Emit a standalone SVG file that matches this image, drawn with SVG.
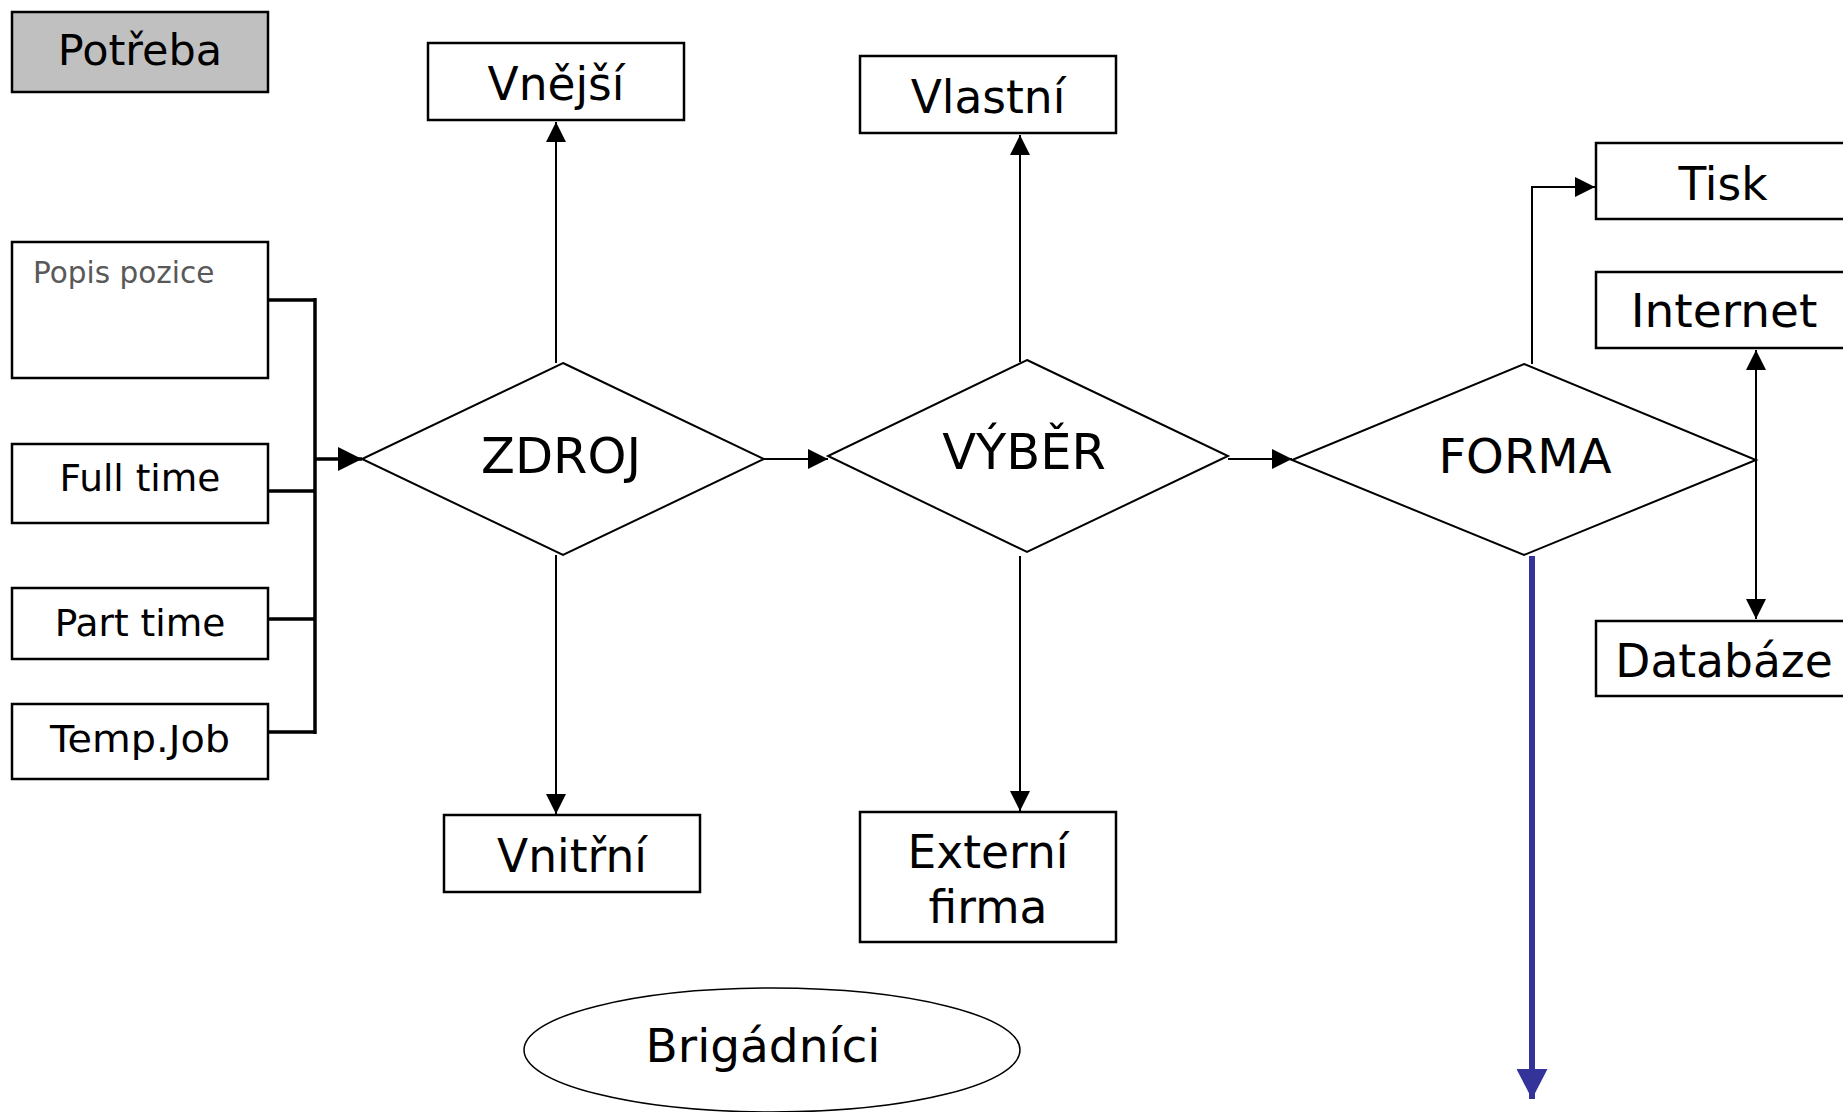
<svg xmlns="http://www.w3.org/2000/svg" width="1843" height="1112" viewBox="0 0 1843 1112">
  <style>
    .box { fill: #ffffff; stroke: #000000; stroke-width: 2.5; }
    .shade { fill: #c0c0c0; }
    .dia { fill: #ffffff; stroke: #000000; stroke-width: 2; }
    .lbl { font-family: "DejaVu Sans", Verdana, sans-serif; fill: #000000; text-anchor: middle; }
    .s44 { font-size: 45.5px; }
    .s36 { font-size: 37.5px; }
    .s48 { font-size: 49.5px; }
    .thin { fill: none; stroke: #000000; stroke-width: 2; }
    .bus { fill: none; stroke: #000000; stroke-width: 3.5; }
    .blue { fill: none; stroke: #333399; stroke-width: 6; }
  </style>
  <defs>
    <marker id="arr" markerUnits="userSpaceOnUse" markerWidth="20" markerHeight="20" refX="20" refY="10" orient="auto-start-reverse">
      <path d="M0,0 L20,10 L0,20 z" fill="#000000"/>
    </marker>
    <marker id="arrBig" markerUnits="userSpaceOnUse" markerWidth="24" markerHeight="24" refX="24" refY="12" orient="auto">
      <path d="M0,0 L24,12 L0,24 z" fill="#000000"/>
    </marker>
    <marker id="arrBlue" markerUnits="userSpaceOnUse" markerWidth="30" markerHeight="31" refX="30" refY="15.5" orient="auto">
      <path d="M0,0 L30,15.5 L0,31 z" fill="#333399"/>
    </marker>
  </defs>

  <!-- connectors -->
  <g id="connectors">
    <path class="bus" d="M268,300 H315 M268,491 H315 M268,619 H315 M268,732 H315 M315,298 V734"/>
    <path class="bus" d="M315,459 H362" marker-end="url(#arrBig)"/>
    <path class="thin" d="M556,363 V122" marker-end="url(#arr)"/>
    <path class="thin" d="M556,555 V814" marker-end="url(#arr)"/>
    <path class="thin" d="M764,459 H828" marker-end="url(#arr)"/>
    <path class="thin" d="M1020,362 V135" marker-end="url(#arr)"/>
    <path class="thin" d="M1020,556 V811" marker-end="url(#arr)"/>
    <path class="thin" d="M1228,459 H1292" marker-end="url(#arr)"/>
    <path class="thin" d="M1532,364 V187 H1595" marker-end="url(#arr)"/>
    <path class="thin" d="M1756,350 V619" marker-start="url(#arr)" marker-end="url(#arr)"/>
    <path class="blue" d="M1532,556 V1099" marker-end="url(#arrBlue)"/>
  </g>

  <!-- left column -->
  <g id="potreba">
    <rect class="box shade" x="12" y="12" width="256" height="80"/>
    <text class="lbl" x="140" y="65" font-size="43">Potřeba</text>
  </g>
  <g id="popis-pozice">
    <rect class="box" x="12" y="242" width="256" height="136"/>
    <text x="33" y="283" font-family="DejaVu Sans, Verdana, sans-serif" font-size="29.5" fill="#595959">Popis pozice</text>
  </g>
  <g id="full-time">
    <rect class="box" x="12" y="444" width="256" height="79"/>
    <text class="lbl s36" x="140" y="491">Full time</text>
  </g>
  <g id="part-time">
    <rect class="box" x="12" y="588" width="256" height="71"/>
    <text class="lbl s36" x="140" y="636">Part time</text>
  </g>
  <g id="temp-job">
    <rect class="box" x="12" y="704" width="256" height="75"/>
    <text class="lbl s36" x="140" y="752" textLength="180" lengthAdjust="spacingAndGlyphs">Temp.Job</text>
  </g>

  <!-- ZDROJ -->
  <g id="zdroj">
    <polygon class="dia" points="563,363 764,459 563,555 362,459"/>
    <text class="lbl s48" x="561" y="473">ZDROJ</text>
  </g>
  <g id="vnejsi">
    <rect class="box" x="428" y="43" width="256" height="77"/>
    <text class="lbl s44" x="556" y="100">Vnější</text>
  </g>
  <g id="vnitrni">
    <rect class="box" x="444" y="815" width="256" height="77"/>
    <text class="lbl s44" x="572" y="872">Vnitřní</text>
  </g>

  <!-- VÝBĚR -->
  <g id="vyber">
    <polygon class="dia" points="1027,360 1228,456 1027,552 828,456"/>
    <text class="lbl s48" x="1024" y="469">VÝBĚR</text>
  </g>
  <g id="vlastni">
    <rect class="box" x="860" y="56" width="256" height="77"/>
    <text class="lbl s44" x="988" y="113">Vlastní</text>
  </g>
  <g id="externi-firma">
    <rect class="box" x="860" y="812" width="256" height="130"/>
    <text class="lbl s44" x="988" y="868">Externí</text>
    <text class="lbl s44" x="988" y="923">firma</text>
  </g>

  <!-- Brigádníci -->
  <g id="brigadnici">
    <ellipse cx="772" cy="1050" rx="248" ry="62" fill="#ffffff" stroke="#000000" stroke-width="1.5"/>
    <text class="lbl" x="763" y="1062" font-size="47">Brigádníci</text>
  </g>

  <!-- FORMA -->
  <g id="forma">
    <polygon class="dia" points="1524,364 1756,460 1524,555 1292,460"/>
    <text class="lbl" x="1525" y="473" font-size="48">FORMA</text>
  </g>
  <g id="tisk">
    <rect class="box" x="1596" y="143" width="256" height="76"/>
    <text class="lbl s44" x="1723" y="200">Tisk</text>
  </g>
  <g id="internet">
    <rect class="box" x="1596" y="272" width="256" height="76"/>
    <text class="lbl" x="1724" y="327" font-size="47">Internet</text>
  </g>
  <g id="databaze">
    <rect class="box" x="1596" y="621" width="256" height="75"/>
    <text class="lbl s44" x="1724" y="677">Databáze</text>
  </g>
</svg>
